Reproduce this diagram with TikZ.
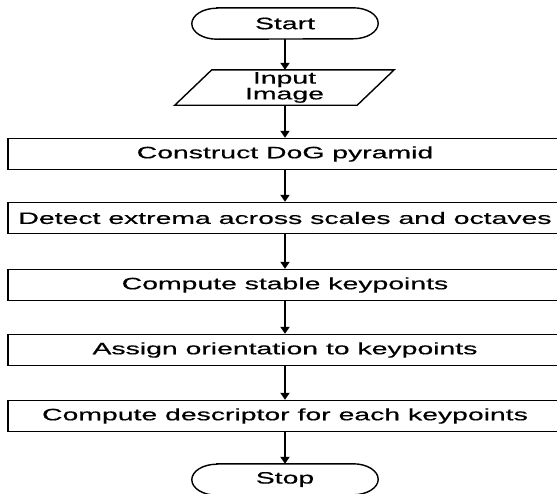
\documentclass[tikz,border=0pt]{standalone}
\usepackage{fontspec}
\setmainfont{Liberation Sans}[FakeStretch=1.72,FakeBold=0.5]
\usetikzlibrary{arrows.meta}
\begin{document}
\begin{tikzpicture}[x=1pt,y=-1pt,
  txt/.style={font=\fontsize{16.5}{14}\selectfont, align=center},
  proc/.style={txt, draw, line width=1.4pt, minimum width=554pt, minimum height=31pt, inner sep=0pt},
  term/.style={txt, minimum width=186pt, minimum height=31pt, inner sep=0pt},
  flow/.style={line width=2.2pt, -{Triangle[width=9pt,length=7pt]}}]
\useasboundingbox (0,0) rectangle (557,493);
\clip (0,0) rectangle (557,493);
\node[term] (start) at (285,23.5) {Start};
\node[txt, minimum width=182pt, minimum height=35pt, inner sep=0pt] (inp) at (284.5,87.5) {Input\\Image};
\node[proc] (c1) at (285,154) {Construct DoG pyramid};
\node[proc] (c2) at (285,218) {Detect extrema across scales and octaves};
\node[proc] (c3) at (285,285) {Compute stable keypoints};
\node[proc] (c4) at (285,350) {Assign orientation to keypoints};
\node[proc] (c5) at (285,416) {Compute descriptor for each keypoints};
\node[term] (stop) at (285,479.5) {Stop};
\foreach \n in {start,stop}
  \draw[line width=1.4pt] ([xshift=25pt]\n.north west) -- ([xshift=-25pt]\n.north east)
    arc[start angle=90,end angle=-90,x radius=25pt,y radius=15.5pt]
    -- ([xshift=25pt]\n.south west)
    arc[start angle=270,end angle=90,x radius=25pt,y radius=15.5pt] -- cycle;
\draw[line width=1.4pt] ([xshift=-18.5pt]inp.south west) -- ([xshift=-18.5pt]inp.south east)
  -- ([xshift=18.5pt]inp.north east) -- ([xshift=18.5pt]inp.north west) -- cycle;
\draw[flow] (start.south) -- (start.south |- inp.north);
\draw[flow] (start.south |- inp.south) -- (c1.north);
\draw[flow] (c1) -- (c2);
\draw[flow] (c2) -- (c3);
\draw[flow] (c3) -- (c4);
\draw[flow] (c4) -- (c5);
\draw[flow] (c5) -- (stop);
\end{tikzpicture}
\end{document}
